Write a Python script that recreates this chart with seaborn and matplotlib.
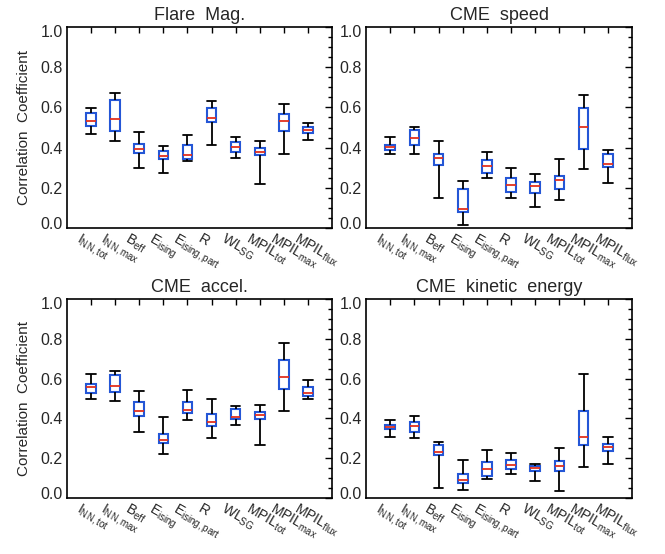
import numpy as np
import pandas as pd
import matplotlib
matplotlib.use("Agg")
import matplotlib.pyplot as plt
import matplotlib.transforms as mtransforms
from matplotlib.ticker import MultipleLocator, FormatStrFormatter
import seaborn as sns

# ---------------- data ----------------
param_keys = ["INN_tot", "INN_max", "B_eff", "E_ising", "E_ising_part",
              "R", "WL_SG", "MPIL_tot", "MPIL_max", "MPIL_flux"]
param_labels = [r"$\mathrm{I_{NN,tot}}$", r"$\mathrm{I_{NN,max}}$", r"$\mathrm{B_{eff}}$",
                r"$\mathrm{E_{ising}}$", r"$\mathrm{E_{ising,part}}$", r"$\mathrm{R}$",
                r"$\mathrm{WL_{SG}}$", r"$\mathrm{MPIL_{tot}}$", r"$\mathrm{MPIL_{max}}$",
                r"$\mathrm{MPIL_{flux}}$"]
panel_titles = ["Flare  Mag.", "CME  speed", "CME  accel.", "CME  kinetic  energy"]
y_ticks = [0.0, 0.2, 0.4, 0.6, 0.8, 1.0]

flare_lo  = [0.468, 0.435, 0.297, 0.273, 0.333, 0.413, 0.350, 0.220, 0.370, 0.437]
flare_q1  = [0.505, 0.482, 0.373, 0.345, 0.342, 0.525, 0.377, 0.363, 0.485, 0.473]
flare_med = [0.532, 0.543, 0.392, 0.358, 0.363, 0.547, 0.403, 0.380, 0.533, 0.488]
flare_q3  = [0.573, 0.638, 0.418, 0.382, 0.413, 0.597, 0.430, 0.397, 0.567, 0.503]
flare_hi  = [0.597, 0.672, 0.477, 0.407, 0.463, 0.633, 0.452, 0.433, 0.615, 0.523]

speed_lo  = [0.368, 0.368, 0.148, 0.013, 0.247, 0.150, 0.103, 0.138, 0.293, 0.225]
speed_q1  = [0.388, 0.412, 0.315, 0.082, 0.275, 0.180, 0.173, 0.193, 0.395, 0.302]
speed_med = [0.402, 0.448, 0.347, 0.097, 0.307, 0.212, 0.207, 0.238, 0.502, 0.317]
speed_q3  = [0.415, 0.488, 0.368, 0.193, 0.337, 0.247, 0.227, 0.260, 0.598, 0.367]
speed_hi  = [0.452, 0.502, 0.435, 0.235, 0.380, 0.297, 0.268, 0.342, 0.660, 0.390]

accel_lo  = [0.498, 0.488, 0.332, 0.222, 0.390, 0.303, 0.367, 0.267, 0.435, 0.500]
accel_q1  = [0.528, 0.533, 0.412, 0.278, 0.428, 0.362, 0.397, 0.398, 0.548, 0.515]
accel_med = [0.557, 0.565, 0.437, 0.290, 0.440, 0.383, 0.405, 0.418, 0.608, 0.527]
accel_q3  = [0.575, 0.617, 0.480, 0.323, 0.483, 0.423, 0.445, 0.432, 0.695, 0.557]
accel_hi  = [0.625, 0.640, 0.540, 0.407, 0.545, 0.495, 0.460, 0.465, 0.777, 0.593]

energy_lo  = [0.305, 0.302, 0.052, 0.042, 0.097, 0.123, 0.087, 0.035, 0.158, 0.170]
energy_q1  = [0.348, 0.332, 0.218, 0.075, 0.110, 0.147, 0.135, 0.135, 0.267, 0.235]
energy_med = [0.355, 0.360, 0.233, 0.090, 0.145, 0.167, 0.150, 0.160, 0.305, 0.255]
energy_q3  = [0.365, 0.380, 0.267, 0.123, 0.180, 0.190, 0.163, 0.187, 0.437, 0.272]
energy_hi  = [0.390, 0.412, 0.280, 0.193, 0.243, 0.228, 0.173, 0.252, 0.622, 0.307]

panels = [
    (flare_lo, flare_q1, flare_med, flare_q3, flare_hi),
    (speed_lo, speed_q1, speed_med, speed_q3, speed_hi),
    (accel_lo, accel_q1, accel_med, accel_q3, accel_hi),
    (energy_lo, energy_q1, energy_med, energy_q3, energy_hi),
]

# ---------------- style ----------------
sns.set_style("white")
plt.rcParams["font.family"] = ["Liberation Sans", "DejaVu Sans"]
plt.rcParams["mathtext.fontset"] = "custom"
plt.rcParams["mathtext.rm"] = "Liberation Sans"
plt.rcParams["mathtext.it"] = "Liberation Sans:italic"
plt.rcParams["mathtext.bf"] = "Liberation Sans:bold"

BLUE = "#2456d6"
RED = "#e2301e"

fig = plt.figure(figsize=(6.65, 5.54), dpi=100)
W, H = 665.0, 554.0
rects = [
    (67, 27, 332, 228),
    (366, 27, 632, 228),
    (67, 299, 332, 498),
    (366, 299, 632, 498),
]

for idx, (stats, title, (x0, y0, x1, y1)) in enumerate(zip(panels, panel_titles, rects)):
    ax = fig.add_axes([x0 / W, 1 - y1 / H, (x1 - x0) / W, (y1 - y0) / H])
    rows = []
    for i, key in enumerate(param_keys):
        for arr in stats:
            rows.append({"param": key, "value": arr[i]})
    df = pd.DataFrame(rows)

    sns.boxplot(data=df, x="param", y="value", order=param_keys, ax=ax,
                whis=(0, 100), width=0.4, showfliers=False,
                boxprops=dict(facecolor="white", edgecolor=BLUE, linewidth=1.5),
                medianprops=dict(color=RED, linewidth=1.3),
                whiskerprops=dict(color="black", linewidth=1.3),
                capprops=dict(color="black", linewidth=1.3),
                capwidths=0.4)

    ax.set_xlim(-1, 10)
    ax.set_ylim(0, 1.0)
    ax.set_yticks(y_ticks)
    ax.yaxis.set_major_formatter(FormatStrFormatter("%.1f"))
    ax.yaxis.set_minor_locator(MultipleLocator(0.05))
    ax.set_xticks(range(len(param_keys)))
    ax.set_xticklabels(param_labels, rotation=-30, ha="left", va="top",
                       rotation_mode="anchor", fontsize=10)
    ax.tick_params(axis="both", which="both", direction="in", top=True, right=True,
                   color="black", width=1.0)
    ax.tick_params(axis="y", which="major", length=5, labelsize=11.5, pad=3)
    ax.tick_params(axis="y", which="minor", length=3)
    ax.tick_params(axis="x", which="major", length=4, pad=2)
    ax.tick_params(axis="x", which="minor", bottom=False, top=False)
    for sp in ax.spines.values():
        sp.set_visible(True)
        sp.set_color("black")
        sp.set_linewidth(1.2)

    shift = mtransforms.ScaledTranslation(-9 / 100.0, 0, fig.dpi_scale_trans)
    for lab in ax.get_xticklabels():
        lab.set_transform(lab.get_transform() + shift)
    ylabs = ax.get_yticklabels()
    ylabs[0].set_transform(ylabs[0].get_transform() +
                           mtransforms.ScaledTranslation(0, 5 / 100.0, fig.dpi_scale_trans))
    ylabs[-1].set_transform(ylabs[-1].get_transform() +
                            mtransforms.ScaledTranslation(0, -4 / 100.0, fig.dpi_scale_trans))

    ax.set_xlabel("")
    if idx % 2 == 0:
        ax.set_ylabel("Correlation  Coefficient", fontsize=11, labelpad=7)
    else:
        ax.set_ylabel("")
    ax.set_title(title, fontsize=13, pad=5)

fig.savefig("out.png", dpi=100)
